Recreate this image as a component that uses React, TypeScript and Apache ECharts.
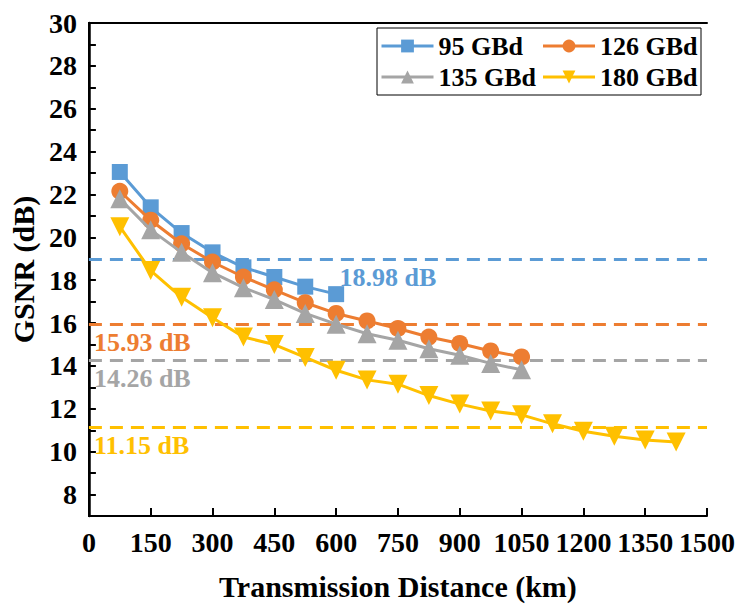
import React, { useEffect, useRef } from "react";
import * as echarts from "echarts";

const distances = [75, 150, 225, 300, 375, 450, 525, 600, 675, 750, 825, 900, 975, 1050, 1125, 1200, 1275, 1350, 1425];
const gsnr95 = [23.05, 21.4, 20.2, 19.3, 18.6, 18.15, 17.7, 17.35];
const gsnr126 = [22.15, 20.8, 19.7, 18.85, 18.15, 17.55, 16.95, 16.45, 16.1, 15.75, 15.35, 15.05, 14.7, 14.42];
const gsnr135 = [21.8, 20.35, 19.3, 18.35, 17.65, 17.1, 16.45, 15.95, 15.5, 15.2, 14.8, 14.5, 14.12, 13.82];
const gsnr180 = [20.5, 18.45, 17.2, 16.25, 15.35, 15.0, 14.4, 13.8, 13.35, 13.15, 12.62, 12.22, 11.9, 11.72, 11.3, 10.95, 10.72, 10.55, 10.45];
const seriesNames = ["95 GBd", "126 GBd", "135 GBd", "180 GBd"];
const thresholds = [18.98, 15.93, 14.26, 11.15];
const colors = ["#5B9BD5", "#ED7D31", "#A5A5A5", "#FFC000"];

const FONT = "Liberation Serif";

export default function App() {
  const ref = useRef<HTMLDivElement>(null);
  useEffect(() => {
    if (!ref.current) return;
    const chart = echarts.init(ref.current, null, { renderer: "svg" });
    const values = [gsnr95, gsnr126, gsnr135, gsnr180];
    const symbols = ["rect", "circle", "triangle", "triangle"];
    const symbolSizes = [16, 17, 19, 19];
    const rotates = [0, 0, 0, 180];
    const series = values.map((vals, i) => ({
      name: seriesNames[i],
      type: "line",
      data: vals.map((v, j) => [distances[j], v]),
      symbol: symbols[i],
      symbolSize: symbolSizes[i],
      symbolRotate: rotates[i],
      showAllSymbol: true,
      lineStyle: { color: colors[i], width: 3 },
      itemStyle: { color: colors[i] },
      z: 3 + i,
      markLine: {
        silent: true,
        symbol: ["none", "none"],
        data: [{ yAxis: thresholds[i] }],
        lineStyle: { color: colors[i], type: [13, 8], width: 3 },
        label: {
          show: true,
          formatter: () => `${thresholds[i]} dB`,
          position: i === 0 ? "insideMiddleBottom" : "insideStartBottom",
          offset: i === 0 ? [-10, 0] : [0, 0],
          color: colors[i],
          fontFamily: FONT,
          fontWeight: "bold",
          fontSize: 26,
        },
        z: 1,
      },
    }));
    chart.setOption({
      animation: false,
      backgroundColor: "#ffffff",
      grid: { left: 86, right: 33, top: 23, bottom: 83 },
      legend: {
        data: seriesNames,
        left: 377,
        top: 28,
        width: 322,
        orient: "horizontal",
        itemWidth: 52,
        itemHeight: 16,
        itemGap: 5,
        padding: [5, 3],
        borderColor: "#000",
        borderWidth: 1,
        lineStyle: { width: 3 },
        textStyle: {
          fontFamily: FONT,
          fontWeight: "bold",
          fontSize: 26,
          color: "#000",
          width: 98,
          lineHeight: 25,
        },
      },
      xAxis: [
        {
          type: "value",
          min: 0,
          max: 1500,
          interval: 150,
          name: "Transmission Distance (km)",
          nameLocation: "middle",
          nameGap: 55,
          nameTextStyle: { fontFamily: FONT, fontWeight: "bold", fontSize: 30, color: "#000" },
          axisLine: { show: true, lineStyle: { color: "#000", width: 2 } },
          axisTick: { show: true, inside: true, length: 8, lineStyle: { color: "#000", width: 2 } },
          axisLabel: {
            fontFamily: FONT,
            fontWeight: "bold",
            fontSize: 28,
            color: "#000",
            margin: 12,
            formatter: (v: number) => String(v),
          },
          splitLine: { show: false },
        },
        {
          type: "value",
          position: "top",
          min: 0,
          max: 1500,
          axisLine: { show: true, lineStyle: { color: "#000", width: 2 } },
          axisTick: { show: false },
          axisLabel: { show: false },
          splitLine: { show: false },
        },
      ],
      yAxis: [
        {
          type: "value",
          min: 7,
          max: 30,
          interval: 1,
          name: "GSNR (dB)",
          nameLocation: "middle",
          nameGap: 50,
          nameTextStyle: { fontFamily: FONT, fontWeight: "bold", fontSize: 30, color: "#000" },
          axisLine: { show: true, lineStyle: { color: "#000", width: 2 } },
          axisTick: { show: true, inside: true, length: 7, lineStyle: { color: "#000", width: 2 } },
          axisLabel: {
            fontFamily: FONT,
            fontWeight: "bold",
            fontSize: 28,
            color: "#000",
            margin: 12,
            formatter: (v: number) => (v % 2 === 0 ? String(v) : ""),
          },
          splitLine: { show: false },
        },
        {
          type: "value",
          position: "right",
          min: 7,
          max: 30,
          axisLine: { show: true, lineStyle: { color: "#000", width: 2.5 } },
          axisTick: { show: false },
          axisLabel: { show: false },
          splitLine: { show: false },
        },
      ],
      series,
    });
    return () => chart.dispose();
  }, []);
  return (
    <div
      ref={ref}
      style={{ position: "fixed", left: 0, top: 0, width: 740, height: 606, background: "#fff" }}
    />
  );
}
